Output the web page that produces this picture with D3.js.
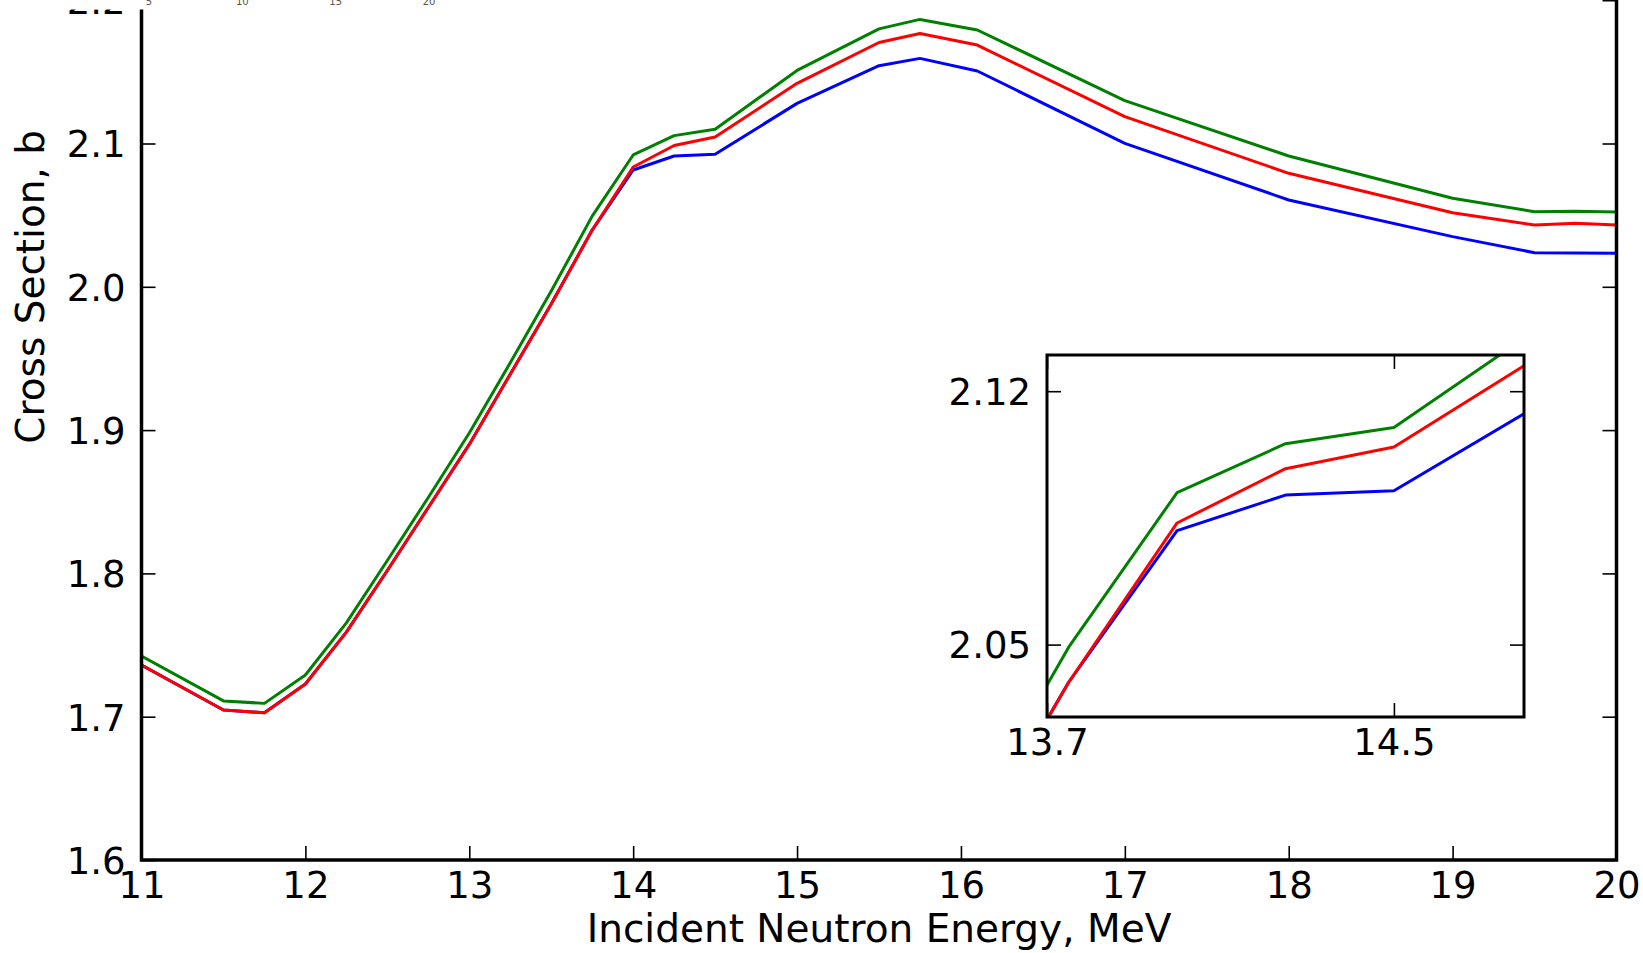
<!doctype html>
<html>
<head>
<script src="https://cdnjs.cloudflare.com/ajax/libs/d3/7.8.5/d3.min.js"></script>
<style>
  body { margin: 0; background: #fff; }
  svg { display: block; font-family: "DejaVu Sans", sans-serif; }
  .tick text { fill: #000; }
</style>
</head>
<body>
<svg id="chart" width="1643" height="953"></svg>
<script>
// incident neutron energy, MeV
var energy = [11, 11.5, 11.75, 12, 12.25, 12.5, 12.75, 13, 13.25, 13.5, 13.75, 14, 14.25, 14.5,
              15, 15.5, 15.75, 16.1, 17, 18, 19, 19.5, 19.75, 20];
// cross sections, b
var sigmaBlue  = [1.7361, 1.7047, 1.7028, 1.7228, 1.759, 1.802, 1.846, 1.890, 1.939, 1.988, 2.0396, 2.0815, 2.0913, 2.0925,
                  2.128, 2.1543, 2.1594, 2.1506, 2.1001, 2.0606, 2.0350, 2.0238, 2.0236, 2.0234];
var sigmaGreen = [1.7424, 1.711, 1.7093, 1.7291, 1.7655, 1.809, 1.853, 1.898, 1.947, 1.997, 2.0493, 2.092, 2.1055, 2.110,
                  2.151, 2.180, 2.1866, 2.1792, 2.1299, 2.0913, 2.0618, 2.0524, 2.0527, 2.0522];
var sigmaRed   = [1.7361, 1.7047, 1.7028, 1.7228, 1.759, 1.802, 1.846, 1.890, 1.939, 1.988, 2.0396, 2.0836, 2.0986, 2.1046,
                  2.142, 2.1705, 2.1768, 2.1687, 2.1187, 2.0792, 2.0517, 2.0431, 2.0443, 2.0431];

var xTicks = [11, 12, 13, 14, 15, 16, 17, 18, 19, 20];
var yTicks = [1.6, 1.7, 1.8, 1.9, 2.0, 2.1, 2.2, 2.3, 2.4];
var insetXTicks = [13.7, 14.5];
var insetYTicks = [2.05, 2.12];
// tick labels of a small plot that sits over the top left corner
var strayTicks = ["5", "10", "15", "20"];

var series = [
  {name: "blue", color: "#0000ff", values: sigmaBlue},
  {name: "green", color: "#008000", values: sigmaGreen},
  {name: "red", color: "#ff0000", values: sigmaRed}
];

var svg = d3.select("#chart");
var tickFont = 37, labelFont = 39;

var x = d3.scaleLinear().domain([11, 20]).range([141.5, 1616.5]);
var y = d3.scaleLinear().domain([1.6, 2.4]).range([860, -286.4]);

svg.append("clipPath").attr("id", "mainClip")
  .append("rect").attr("x", x(11)).attr("y", y(2.4)).attr("width", x(20) - x(11)).attr("height", y(1.6) - y(2.4));

var line = d3.line()
  .x(function(d) { return x(d[0]); })
  .y(function(d) { return y(d[1]); });

svg.append("g").attr("clip-path", "url(#mainClip)")
  .selectAll("path").data(series).enter().append("path")
  .attr("fill", "none")
  .attr("stroke", function(d) { return d.color; })
  .attr("stroke-width", 3)
  .attr("stroke-linejoin", "round")
  .attr("d", function(d) { return line(energy.map(function(e, i) { return [e, d.values[i]]; })); });

function styleAxis(g, fs) {
  g.select(".domain").remove();
  g.selectAll(".tick line").attr("stroke", "#000").attr("stroke-width", 1.6);
  g.selectAll(".tick text").attr("font-size", fs).attr("font-family", "DejaVu Sans");
}

// main axes, ticks pointing inward
svg.append("g").attr("transform", "translate(0," + y(1.6) + ")")
  .call(d3.axisBottom(x).tickValues(xTicks).tickFormat(d3.format("d")).tickSize(-14).tickPadding(12))
  .call(styleAxis, tickFont);
svg.append("g").attr("transform", "translate(" + x(11) + ",0)")
  .call(d3.axisLeft(y).tickValues(yTicks).tickFormat(d3.format(".1f")).tickSize(-14).tickPadding(16))
  .call(styleAxis, tickFont)
  .selectAll(".tick text").attr("dy", "0.36em");
svg.append("g").attr("transform", "translate(" + x(20) + ",0)")
  .call(d3.axisRight(y).tickValues(yTicks).tickFormat("").tickSize(-14))
  .call(styleAxis, tickFont);

svg.append("rect")
  .attr("x", x(11)).attr("y", y(2.4))
  .attr("width", x(20) - x(11)).attr("height", y(1.6) - y(2.4))
  .attr("fill", "none").attr("stroke", "#000").attr("stroke-width", 3.5);

svg.append("text")
  .attr("x", (x(11) + x(20)) / 2).attr("y", 942)
  .attr("text-anchor", "middle").attr("font-size", labelFont)
  .text("Incident Neutron Energy, MeV");
svg.append("text")
  .attr("transform", "translate(44," + (y(1.6) + y(2.4)) / 2 + ") rotate(-90)")
  .attr("text-anchor", "middle").attr("font-size", labelFont)
  .text("Cross Section, b");

// inset
var ix = d3.scaleLinear().domain([13.7, 14.8]).range([1047, 1524]);
var iy = d3.scaleLinear().domain([2.03, 2.13]).range([717, 355]);

svg.append("rect")
  .attr("x", ix(13.7)).attr("y", iy(2.13))
  .attr("width", ix(14.8) - ix(13.7)).attr("height", iy(2.03) - iy(2.13))
  .attr("fill", "#fff");

svg.append("clipPath").attr("id", "insetClip")
  .append("rect").attr("x", ix(13.7)).attr("y", iy(2.13))
  .attr("width", ix(14.8) - ix(13.7)).attr("height", iy(2.03) - iy(2.13));

var insetLine = d3.line()
  .x(function(d) { return ix(d[0]); })
  .y(function(d) { return iy(d[1]); });

svg.append("g").attr("clip-path", "url(#insetClip)")
  .selectAll("path").data(series).enter().append("path")
  .attr("fill", "none")
  .attr("stroke", function(d) { return d.color; })
  .attr("stroke-width", 3)
  .attr("stroke-linejoin", "round")
  .attr("d", function(d) { return insetLine(energy.map(function(e, i) { return [e, d.values[i]]; })); });

svg.append("g").attr("transform", "translate(0," + iy(2.03) + ")")
  .call(d3.axisBottom(ix).tickValues(insetXTicks).tickFormat(d3.format(".1f")).tickSize(-14).tickPadding(12))
  .call(styleAxis, tickFont);
svg.append("g").attr("transform", "translate(0," + iy(2.13) + ")")
  .call(d3.axisTop(ix).tickValues(insetXTicks).tickFormat("").tickSize(-14))
  .call(styleAxis, tickFont);
svg.append("g").attr("transform", "translate(" + ix(13.7) + ",0)")
  .call(d3.axisLeft(iy).tickValues(insetYTicks).tickFormat(d3.format(".2f")).tickSize(-14).tickPadding(16))
  .call(styleAxis, tickFont)
  .selectAll(".tick text").attr("dy", "0.36em");
svg.append("g").attr("transform", "translate(" + ix(14.8) + ",0)")
  .call(d3.axisRight(iy).tickValues(insetYTicks).tickFormat("").tickSize(-14))
  .call(styleAxis, tickFont);

svg.append("rect")
  .attr("x", ix(13.7)).attr("y", iy(2.13))
  .attr("width", ix(14.8) - ix(13.7)).attr("height", iy(2.03) - iy(2.13))
  .attr("fill", "none").attr("stroke", "#000").attr("stroke-width", 3);

// the overlapping strip at the top left
svg.append("rect").attr("x", 0).attr("y", 0).attr("width", 520).attr("height", 9.5).attr("fill", "#fff");
var sx = d3.scalePoint().domain(strayTicks).range([149, 429]);
svg.selectAll(".stray").data(strayTicks).enter().append("text")
  .attr("class", "stray")
  .attr("x", function(d) { return sx(d); }).attr("y", 5)
  .attr("text-anchor", "middle").attr("font-size", 10).attr("fill", "#555")
  .text(function(d) { return d; });
</script>
</body>
</html>
